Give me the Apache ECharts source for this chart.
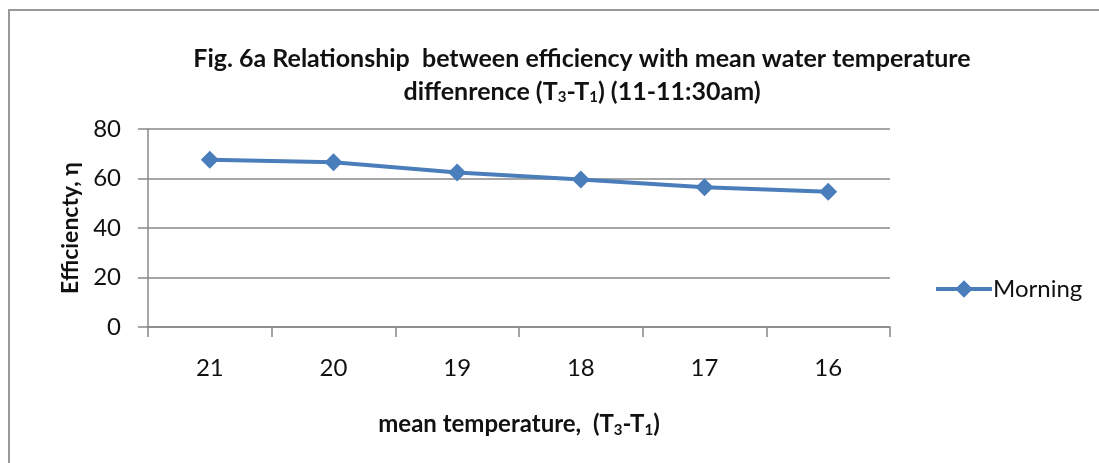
<!DOCTYPE html>
<html>
<head>
<meta charset="utf-8">
<script src="https://cdn.jsdelivr.net/npm/echarts@6/dist/echarts.min.js"></script>
<style>
  html, body { margin: 0; padding: 0; background: #fff; }
  #frame { position: absolute; left: 8px; top: 9px; width: 1100px; height: 470px; border: 2px solid #999; box-sizing: border-box; }
  #chart { position: absolute; left: 0; top: 0; width: 1099px; height: 463px; }
</style>
</head>
<body>
<div id="frame"></div>
<div id="chart"></div>
<script>
// mean temperature difference (T3-T1)
var categories = ['21', '20', '19', '18', '17', '16'];
// efficiency, morning run
var morning = [67.6, 66.6, 62.4, 59.6, 56.5, 54.6];
var yTicks = [0, 20, 40, 60, 80];

var chart = echarts.init(document.getElementById('chart'));
var font = 'Lato, "Open Sans", sans-serif';

chart.setOption({
  animation: false,
  title: {
    text: 'Fig. 6a Relationship  between efficiency with mean water temperature\ndiffenrence (T{sub|3}-T{sub|1}) (11-11:30am)',
    left: 577,
    top: 37,
    textAlign: 'center',
    textStyle: {
      fontFamily: font, fontWeight: 'bold', fontSize: 25, color: '#111', lineHeight: 33,
      rich: {
        sub: { fontFamily: font, fontWeight: 'bold', fontSize: 15, color: '#111', padding: [12, 0, 0, 0] }
      }
    }
  },
  legend: {
    left: 929,
    top: 272,
    itemWidth: 56,
    itemHeight: 22,
    itemGap: 2,
    data: ['Morning'],
    lineStyle: { width: 4 },
    textStyle: { fontFamily: font, fontSize: 24, color: '#111', padding: [0, 0, 0, -4] }
  },
  grid: { left: 148, right: 209, top: 129, bottom: 136 },
  xAxis: {
    type: 'category',
    data: categories,
    boundaryGap: true,
    name: 'mean temperature,  (T{sub|3}-T{sub|1})',
    nameLocation: 'middle',
    nameGap: 84,
    nameMoveOverlap: false,
    nameTextStyle: {
      fontFamily: font, fontWeight: 'bold', fontSize: 24, color: '#111',
      rich: { sub: { fontFamily: font, fontWeight: 'bold', fontSize: 15, color: '#111', padding: [12, 0, 0, 0] } }
    },
    axisLine: { show: true, lineStyle: { color: '#888', width: 1.5 } },
    axisTick: { show: true, length: 10, inside: false, alignWithLabel: false, lineStyle: { color: '#888', width: 1.5 } },
    axisLabel: { fontFamily: font, fontSize: 24, color: '#111', margin: 29 }
  },
  yAxis: {
    type: 'value',
    min: yTicks[0],
    max: yTicks[yTicks.length - 1],
    interval: 20,
    name: 'Efficiencty, η',
    nameLocation: 'middle',
    nameGap: 66,
    nameMoveOverlap: false,
    nameTextStyle: { fontFamily: font, fontWeight: 'bold', fontSize: 23, color: '#111' },
    axisLine: { show: true, lineStyle: { color: '#888', width: 1.5 } },
    axisTick: { show: true, length: 10, lineStyle: { color: '#888', width: 1.5 } },
    axisLabel: { fontFamily: font, fontSize: 24, color: '#111', margin: 27 },
    splitLine: { show: true, lineStyle: { color: '#888', width: 1.5 } }
  },
  series: [{
    name: 'Morning',
    type: 'line',
    data: morning,
    symbol: 'diamond',
    symbolSize: 18,
    itemStyle: { color: '#4a7ebb' },
    lineStyle: { color: '#4a7ebb', width: 4 }
  }]
});
</script>
</body>
</html>
